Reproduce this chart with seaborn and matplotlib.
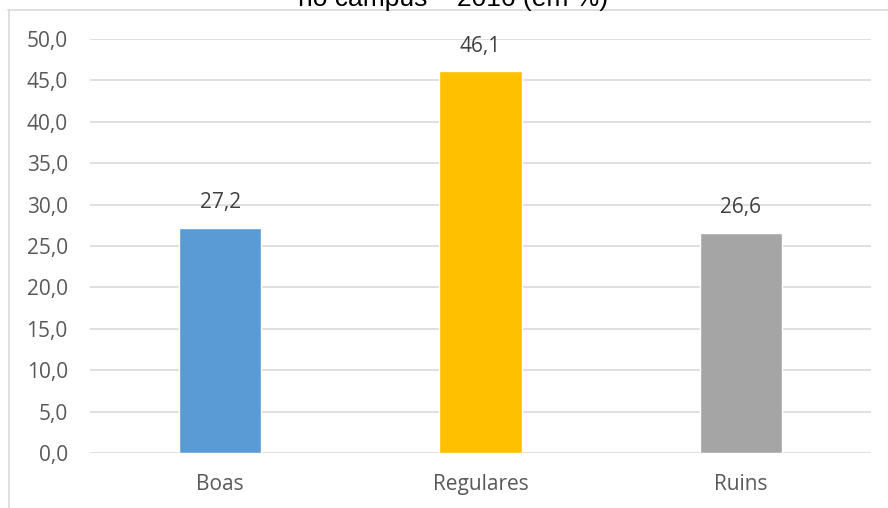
import pandas as pd
import seaborn as sns
import matplotlib.pyplot as plt
from matplotlib.lines import Line2D
from matplotlib.ticker import FuncFormatter, MultipleLocator

categorias = ["Boas", "Regulares", "Ruins"]
valores = [27.2, 46.1, 26.6]
cores = ["#5B9BD5", "#FFC000", "#A5A5A5"]

df = pd.DataFrame({"condicao": categorias, "pct": valores})

sns.set_style("white")
plt.rcParams["font.family"] = ["Open Sans", "DejaVu Sans"]

fig = plt.figure(figsize=(8.88, 5.08), dpi=100)
ax = fig.add_axes([90 / 888, 55 / 508, 781 / 888, 414 / 508])

sns.barplot(data=df, x="condicao", y="pct", hue="condicao", palette=cores,
            width=0.315, legend=False, saturation=1, ax=ax, zorder=3)

ax.set_ylim(0, 50)
ax.set_xlim(-0.5, 2.5)
ax.yaxis.set_major_locator(MultipleLocator(5))
ax.yaxis.set_major_formatter(FuncFormatter(lambda v, p: f"{v:.1f}".replace(".", ",")))
ax.grid(axis="y", color="#d9d9d9", linewidth=1.2, zorder=0)
ax.set_axisbelow(True)
for s in ax.spines.values():
    s.set_visible(False)
ax.tick_params(axis="both", length=0, labelsize=15, labelcolor="#595959")
ax.tick_params(axis="y", pad=16)
ax.tick_params(axis="x", pad=15)
ax.set_xlabel("")
ax.set_ylabel("")

for cont in ax.containers:
    ax.bar_label(cont, labels=[f"{b.get_height():.1f}".replace(".", ",") for b in cont],
                 padding=10.5, fontsize=15, color="#404040")

# borda do quadro do gráfico (recortado)
fig.add_artist(Line2D([8 / 888, 1], [1 - 9.5 / 508, 1 - 9.5 / 508],
                      transform=fig.transFigure, color="#d9d9d9", linewidth=1.2))
fig.add_artist(Line2D([8.5 / 888, 8.5 / 888], [0, 1 - 9.5 / 508],
                      transform=fig.transFigure, color="#d9d9d9", linewidth=1.2))

# título cortado no topo
fig.text(453 / 888, 1 - 6 / 508, "no campus – 2016 (em %)", ha="center", va="baseline",
         fontsize=19, color="#000000", family=["Liberation Sans", "DejaVu Sans"])

fig.savefig("out.png", dpi=100)
